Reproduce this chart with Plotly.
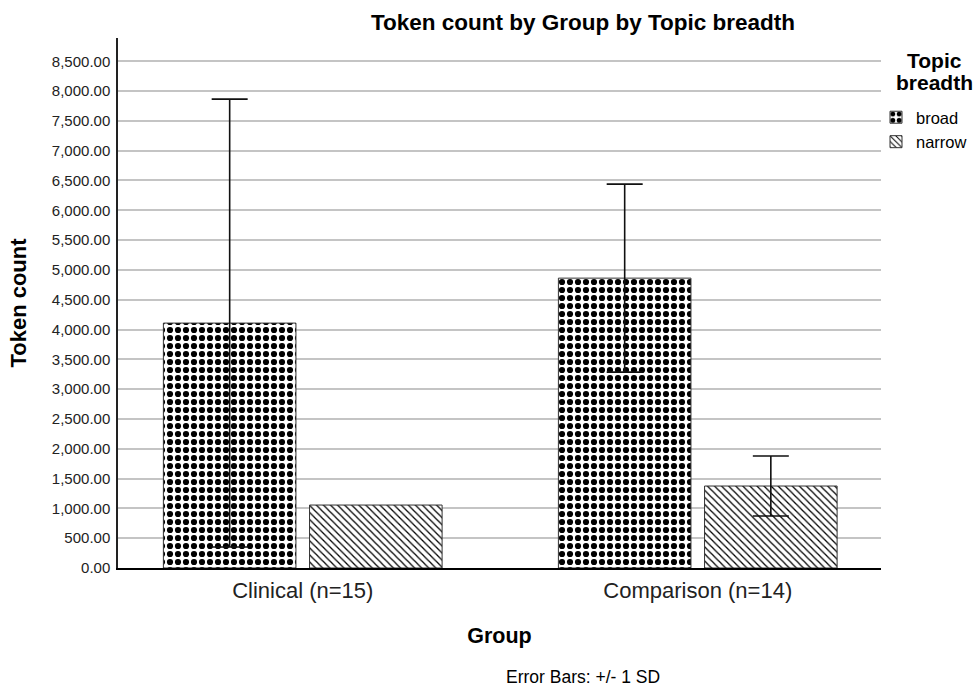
import plotly.graph_objects as go

groups = ["Clinical (n=15)", "Comparison (n=14)"]
series_names = ["broad", "narrow"]
broad_mean = [4108, 4862]
broad_sd = [3756, 1577]
narrow_mean = [1056, 1375]
narrow_sd = [None, 503]   # no error bar drawn for Clinical / narrow
y_ticks = [0, 500, 1000, 1500, 2000, 2500, 3000, 3500, 4000, 4500, 5000, 5500, 6000, 6500, 7000, 7500, 8000, 8500]

FONT = "Liberation Sans, Arial, sans-serif"


def err_array(vals):
    # plotly.js skips error bars whose value is not numeric
    return [v if v is not None else "NaN" for v in vals]


fig = go.Figure()
fig.add_trace(go.Bar(
    name=series_names[0], x=groups, y=broad_mean,
    error_y=dict(type="data", array=err_array(broad_sd), visible=True, color="#111", thickness=1.6, width=18),
    marker=dict(color="white", line=dict(color="#333", width=1),
                pattern=dict(shape=".", size=8, solidity=0.47, fgcolor="black", bgcolor="white", fillmode="replace")),
))
fig.add_trace(go.Bar(
    name=series_names[1], x=groups, y=narrow_mean,
    error_y=dict(type="data", array=err_array(narrow_sd), visible=True, color="#111", thickness=1.6, width=18),
    marker=dict(color="white", line=dict(color="#333", width=1),
                pattern=dict(shape="\\", size=5, solidity=0.25, fgcolor="black", bgcolor="white", fillmode="replace")),
))

fig.update_layout(
    width=976, height=688,
    margin=dict(l=118, r=95, t=38, b=120, autoexpand=False),
    paper_bgcolor="white", plot_bgcolor="white",
    font=dict(family=FONT, color="black"),
    barmode="group", bargap=0.26, bargroupgap=0.093,
    title=dict(text="<b>Token count by Group by Topic breadth</b>", font=dict(size=22.5, color="black"),
               xref="container", x=583/976, xanchor="center", yref="container", y=1-22/688, yanchor="middle"),
    legend=dict(xref="container", yref="container", x=876/976, xanchor="left", y=1-100/688, yanchor="top",
                font=dict(size=16.5), bgcolor="rgba(0,0,0,0)", tracegroupgap=0, itemwidth=30),
    showlegend=True,
)
fig.update_xaxes(
    range=[-0.4677, 1.4639], showline=True, linecolor="black", linewidth=2,
    showgrid=False, ticks="", tickfont=dict(size=22, color="#222"), ticklabelstandoff=2,
    title=dict(text="<b>Group</b>", font=dict(size=21.5), standoff=26),
)
fig.update_yaxes(
    range=[0, 8890], tickvals=y_ticks, tickformat=",.2f",
    showline=True, linecolor="#222", linewidth=1.5,
    showgrid=True, gridcolor="#c4c4c4", gridwidth=1.5, zeroline=False,
    ticks="", tickfont=dict(size=15, color="#222"), ticklabelstandoff=3,
    title=dict(text="<b>Token count</b>", font=dict(size=22), standoff=19),
)
fig.add_annotation(text="<b>Topic</b>", xref="paper", yref="paper",
                   x=(934-118)/763, y=(568-60)/530, xanchor="center", yanchor="middle",
                   showarrow=False, font=dict(size=21, color="black"))
fig.add_annotation(text="<b>breadth</b>", xref="paper", yref="paper",
                   x=(934-118)/763, y=(568-82)/530, xanchor="center", yanchor="middle",
                   showarrow=False, font=dict(size=21, color="black"))
fig.add_annotation(text="Error Bars: +/- 1 SD", xref="paper", yref="paper",
                   x=(583-118)/763, y=(568-677)/530, xanchor="center", yanchor="middle",
                   showarrow=False, font=dict(size=17.5, color="black"))

fig.write_html("out.html")
